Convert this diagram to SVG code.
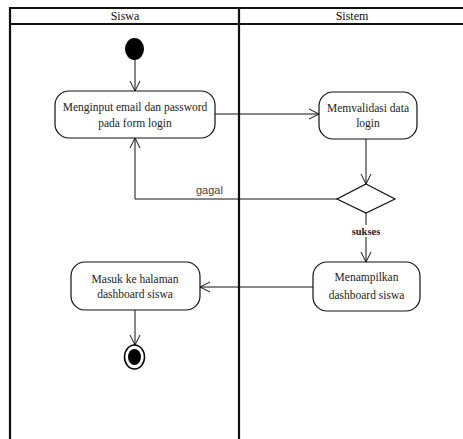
<svg xmlns="http://www.w3.org/2000/svg" width="463" height="439" viewBox="0 0 463 439">
<style>
.lane{stroke:#111;stroke-width:2.2;fill:none}
.node{fill:#fff;stroke:#111;stroke-width:1.2}
.t{font-family:"Liberation Serif",serif;font-size:11.5px;fill:#222;text-anchor:middle}
.h{font-family:"Liberation Serif",serif;font-size:12px;fill:#111;text-anchor:middle}
.edge{stroke:#111;stroke-width:1;fill:none;marker-end:url(#arr)}
.lbl{font-family:"Liberation Sans",sans-serif;font-size:11px;fill:#444}
</style>
<defs>
<marker id="arr" markerWidth="12" markerHeight="12" refX="10" refY="6" orient="auto" markerUnits="userSpaceOnUse">
<path d="M0,1 L10,6 L0,11" fill="none" stroke="#111" stroke-width="1"/>
</marker>
</defs>
<rect width="463" height="439" fill="#fff"/>
<g id="swimlanes">
<line class="lane" x1="10" y1="8" x2="463" y2="8"/>
<line class="lane" x1="10" y1="24" x2="463" y2="24"/>
<line class="lane" x1="10" y1="7" x2="10" y2="439"/>
<line class="lane" x1="239" y1="7" x2="239" y2="439"/>
<text class="h" x="125" y="20">Siswa</text>
<text class="h" x="352" y="20">Sistem</text>
</g>
<g id="connectors">
<path class="edge" d="M135,58 V91"/>
<path class="edge" d="M215,114 H319"/>
<path class="edge" d="M366,139 V184"/>
<path class="edge" d="M337,199 H135 V138"/>
<text class="lbl" x="196" y="194">gagal</text>
<path class="edge" d="M366,213 V262"/>
<rect x="346" y="225" width="40" height="12" fill="#fff"/>
<text class="t" x="366" y="235" style="font-weight:bold;font-size:10.5px">sukses</text>
<path class="edge" d="M313,287 H200"/>
<path class="edge" d="M135,310 V345"/>
</g>
<g id="start">
<ellipse cx="134.5" cy="49" rx="9.5" ry="11" fill="#000"/>
</g>
<g id="n1">
<rect class="node" x="55" y="91" width="160" height="47" rx="14"/>
<text class="t" x="135" y="111">Menginput email dan password</text>
<text class="t" x="135" y="127">pada form login</text>
</g>
<g id="n2">
<rect class="node" x="319" y="92" width="98" height="47" rx="14"/>
<text class="t" x="368" y="112">Memvalidasi data</text>
<text class="t" x="368" y="127">login</text>
</g>
<g id="decision">
<polygon class="node" points="366,184 395,199 366,213 337,199"/>
</g>
<g id="n3">
<rect class="node" x="313" y="262" width="107" height="49" rx="14"/>
<text class="t" x="366.5" y="281">Menampilkan</text>
<text class="t" x="366.5" y="299">dashboard siswa</text>
</g>
<g id="n4">
<rect class="node" x="71" y="262" width="129" height="48" rx="14"/>
<text class="t" x="135" y="283">Masuk ke halaman</text>
<text class="t" x="135" y="298">dashboard siswa</text>
</g>
<g id="end">
<ellipse cx="134.5" cy="357" rx="10" ry="12" fill="#fff" stroke="#000" stroke-width="1.5"/>
<ellipse cx="134.5" cy="357" rx="6.5" ry="8" fill="#000"/>
</g>
</svg>
